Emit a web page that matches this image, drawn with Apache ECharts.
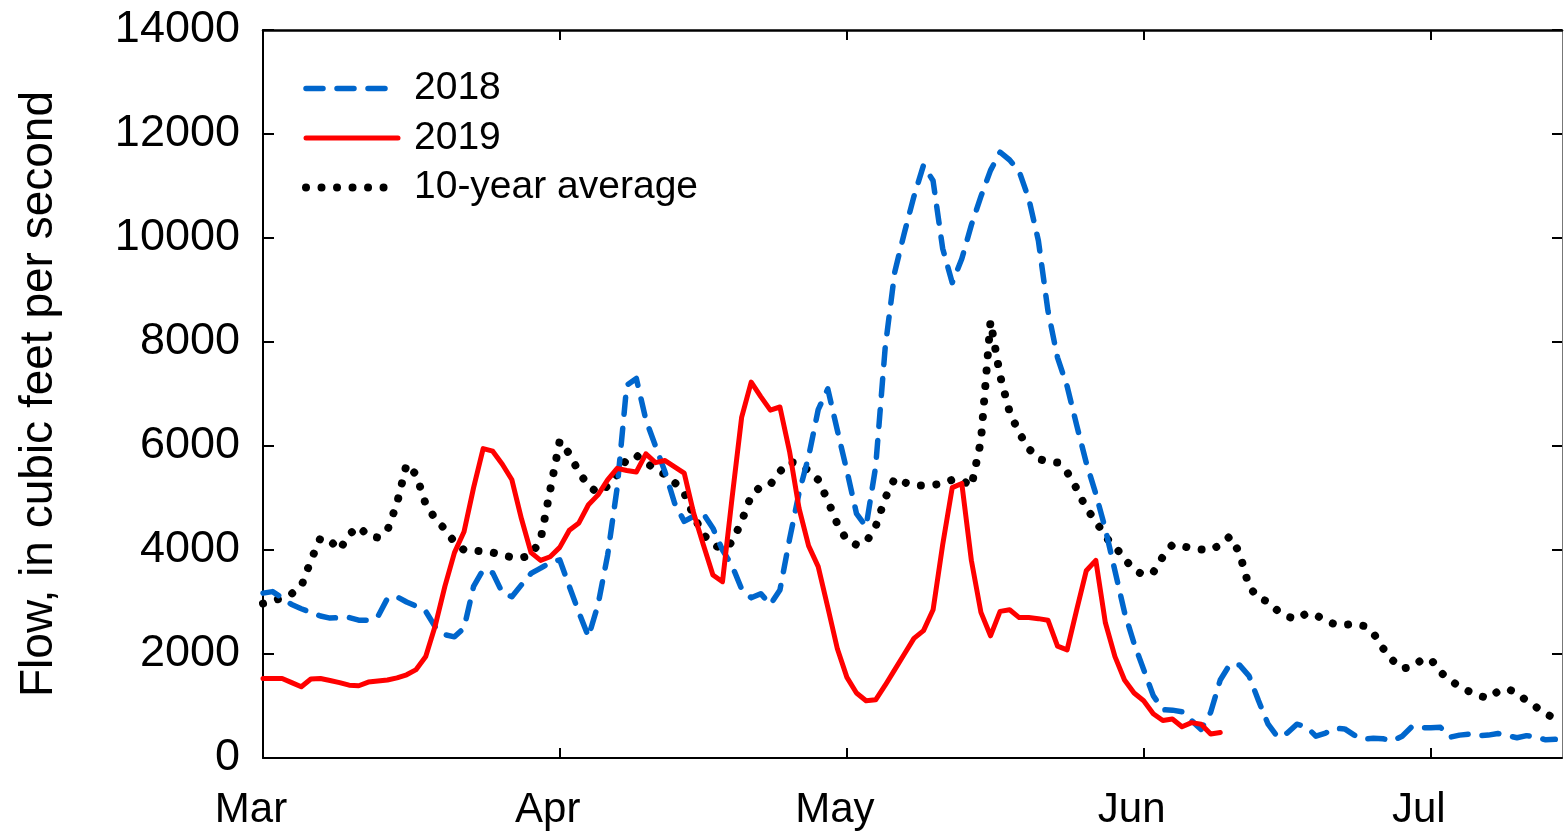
<!DOCTYPE html>
<html>
<head>
<meta charset="utf-8">
<script src="https://cdn.jsdelivr.net/npm/echarts@6/dist/echarts.min.js"></script>
<style>
html,body{margin:0;padding:0;background:#fff;}
#chart{width:1564px;height:832px;}
</style>
</head>
<body>
<div id="chart"></div>
<script>
// Day index 0 = March 1
const monthTicks = [0, 31, 61, 92, 122];
const monthLabels = ['Mar', 'Apr', 'May', 'Jun', 'Jul'];
const seriesNames = ['2018', '2019', '10-year average'];

const flow2018 = [
  3170, 3200, 3080, 2950, 2870, 2800, 2730, 2690, 2700, 2700,
  2650, 2650, 2720, 3070, 3100, 3000, 2920, 2820, 2520, 2370,
  2330, 2500, 3300, 3620, 3560, 3180, 3100, 3330, 3550, 3650,
  3760, 3810, 3300, 2800, 2330, 2950, 3900, 5200, 7170, 7300,
  6500, 6000, 5500, 4900, 4550, 4650, 4700, 4420, 4000, 3700,
  3250, 3080, 3160, 2950, 3230, 4200, 5100, 5800, 6700, 7100,
  6300, 5520, 4700, 4450, 5600, 7900, 9350, 10100, 10800, 11400,
  11100, 9800, 9140, 9600, 10250, 10800, 11300, 11650, 11500, 11280,
  10750, 9950, 8600, 7700, 7150, 6400, 5680, 5080, 4400, 3600,
  2800, 2200, 1700, 1200, 930, 920, 890, 720, 550, 880,
  1500, 1800, 1790, 1580, 1100, 650, 400, 480, 650, 600,
  420, 480, 570, 560, 440, 360, 380, 370, 330, 420,
  600, 580, 580, 590, 400, 440, 460, 430, 440, 470,
  430, 390, 430, 400, 350, 360
];

const flow2019 = [
  1530, 1530, 1530, 1450, 1370, 1520, 1530, 1490, 1450, 1400,
  1390, 1460, 1480, 1500, 1540, 1600, 1700, 1950, 2550, 3300,
  3950, 4350, 5200, 5950, 5900, 5650, 5350, 4600, 3950, 3800,
  3870, 4050, 4380, 4520, 4870, 5060, 5350, 5570, 5530, 5500,
  5850, 5680, 5720, 5600, 5480, 4700, 4100, 3520, 3390, 5000,
  6550, 7230, 6950, 6690, 6750, 5900, 4800, 4080, 3680, 2900,
  2100, 1550, 1250, 1100, 1120, 1400, 1700, 2000, 2300, 2450,
  2850, 4100, 5200, 5280, 3800, 2800, 2350, 2820, 2850, 2700,
  2700, 2680, 2650, 2150, 2080, 2850, 3600, 3800, 2600, 1950,
  1500, 1250, 1100, 850, 720, 750, 600, 680, 650, 460,
  490
];

const flowAvg = [
  2970, 3020, 3080, 3160, 3300, 3800, 4230, 4180, 4000, 4300,
  4450, 4270, 4240, 4380, 4900, 5650, 5450, 4880, 4600, 4400,
  4150, 4000, 3990, 3970, 3950, 3900, 3860, 3850, 3900, 4200,
  5150, 6100, 5850, 5500, 5230, 5100, 5230, 5450, 5750, 5820,
  5680, 5560, 5450, 5300, 5100, 4650, 4300, 4100, 4020, 4150,
  4550, 5050, 5220, 5260, 5510, 5700, 5650, 5530, 5350, 4950,
  4500, 4180, 4100, 4150, 4450, 5000, 5380, 5300, 5240, 5240,
  5250, 5280, 5350, 5350, 5220, 6100, 8400, 7350, 6650, 6250,
  5950, 5750, 5700, 5680, 5500, 5180, 4800, 4560, 4250, 4070,
  3830, 3620, 3520, 3570, 3870, 4100, 4080, 4030, 4010, 4000,
  4100, 4260, 3950, 3300, 3070, 3010, 2830, 2720, 2670, 2780,
  2750, 2640, 2570, 2560, 2580, 2540, 2400, 2110, 1880, 1720,
  1750, 1880, 1900, 1650, 1500, 1370, 1280, 1200, 1150, 1280,
  1330, 1250, 1100, 980, 850, 760
];

const toPairs = arr => arr.map((v, i) => [i, v]);
const FONT = '"Liberation Sans", Arial, sans-serif';

const styles = {
  '2018': {color: '#0066cc', width: 5.5, type: [17, 14]},
  '2019': {color: '#ff0000', width: 5, type: 'solid'},
  '10-year average': {color: '#000000', width: 8, type: [0.01, 15.5]}
};

const chart = echarts.init(document.getElementById('chart'), null, {renderer: 'canvas'});
const option = {
  animation: false,
  backgroundColor: '#fff',
  textStyle: {fontFamily: FONT, color: '#000'},
  grid: {left: 263, right: 2, top: 30, bottom: 74},
  legend: {
    orient: 'vertical',
    left: 297,
    top: 64,
    itemWidth: 92,
    itemHeight: 14,
    itemGap: 10.5,
    align: 'left',
    data: seriesNames.map(n => ({
      name: n,
      itemStyle: {opacity: 0},
      lineStyle: {color: styles[n].color, width: styles[n].width, type: styles[n].type, cap: 'round', join: 'round'}
    })),
    textStyle: {fontSize: 39, color: '#000', fontFamily: FONT, padding: [0, 0, 0, 11]}
  },
  xAxis: [
    {
      type: 'value', min: 0, max: 135.7, position: 'bottom',
      axisLine: {show: true, onZero: false, lineStyle: {color: '#000', width: 2}},
      axisTick: {show: true, inside: true, length: 10, customValues: monthTicks, lineStyle: {color: '#000', width: 2}},
      axisLabel: {
        show: true, customValues: monthTicks, fontSize: 42, color: '#000', fontFamily: FONT,
        margin: 31, padding: [0, 24, 0, 0],
        formatter: v => monthLabels[monthTicks.indexOf(Math.round(v))] || ''
      },
      splitLine: {show: false}
    },
    {
      type: 'value', min: 0, max: 135.7, position: 'top',
      axisLine: {show: true, onZero: false, lineStyle: {color: '#000', width: 2.5}},
      axisTick: {show: true, inside: true, length: 10, customValues: monthTicks, lineStyle: {color: '#000', width: 2}},
      axisLabel: {show: false},
      splitLine: {show: false}
    }
  ],
  yAxis: [
    {
      type: 'value', min: 0, max: 14000, interval: 2000, position: 'left',
      name: 'Flow, in cubic feet per second', nameLocation: 'middle', nameGap: 201, nameRotate: 90,
      nameTextStyle: {fontSize: 46, color: '#000', fontFamily: FONT},
      axisLine: {show: true, onZero: false, lineStyle: {color: '#000', width: 2}},
      axisTick: {show: true, inside: true, length: 11, lineStyle: {color: '#000', width: 2}},
      axisLabel: {fontSize: 45, color: '#000', fontFamily: FONT, margin: 23, formatter: v => String(v)},
      splitLine: {show: false}
    },
    {
      type: 'value', min: 0, max: 14000, interval: 2000, position: 'right',
      axisLine: {show: true, onZero: false, lineStyle: {color: '#777', width: 1}},
      axisTick: {show: true, inside: true, length: 10, lineStyle: {color: '#000', width: 2}},
      axisLabel: {show: false},
      splitLine: {show: false}
    }
  ],
  series: seriesNames.map((n, i) => ({
    name: n,
    type: 'line',
    data: toPairs([flow2018, flow2019, flowAvg][i]),
    showSymbol: false,
    symbol: 'none',
    itemStyle: {color: styles[n].color},
    lineStyle: {color: styles[n].color, width: styles[n].width, type: styles[n].type, cap: 'round', join: 'round'},
    z: [3, 4, 2][i]
  }))
};
chart.setOption(option);
</script>
</body>
</html>
